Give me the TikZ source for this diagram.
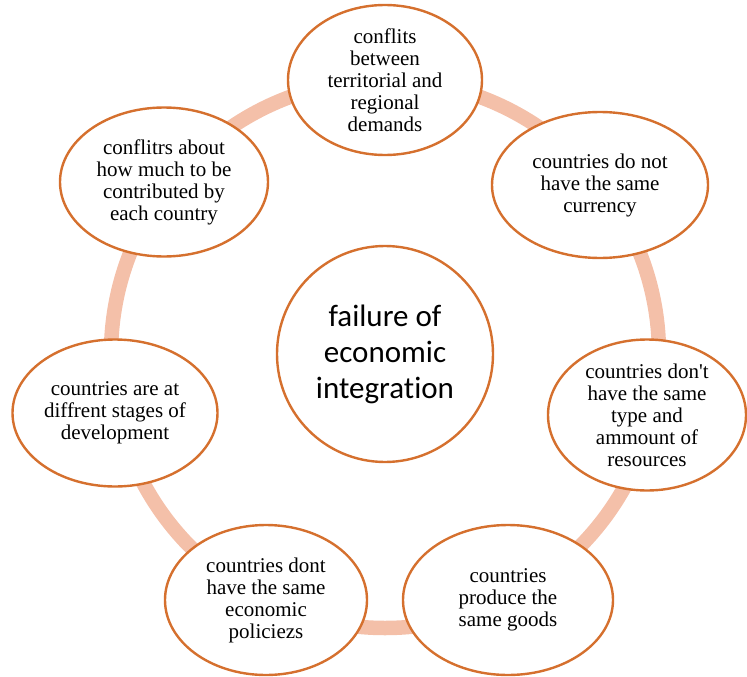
\documentclass[tikz,border=0pt]{standalone}
\usepackage{fontspec}
\setmainfont{Liberation Serif}
\newfontfamily\calib[Ligatures={NoCommon}]{Carlito}
\usetikzlibrary{shapes.geometric}
\definecolor{ringc}{HTML}{F4C0A9}
\definecolor{edgec}{HTML}{D5702E}
\begin{document}
\begin{tikzpicture}[x=1pt,y=-1pt,
  item/.style={ellipse, draw=edgec, line width=2.4pt, fill=white, inner sep=0pt, align=center,
    font=\fontsize{21}{22}\selectfont},
  hub/.style={circle, draw=edgec, line width=2.4pt, fill=white, minimum size=216pt, inner sep=0pt,
    align=center, font=\calib\fontsize{31}{36}\selectfont},
  ring/.style={draw=ringc, line width=14.5pt}]
\useasboundingbox (0,0) rectangle (747,677);
\coordinate (c) at (385,354);
\draw[ring] (c) circle (274pt);
\node[hub] (h) at (c) {failure of\\economic\\integrat\kern0pt ion};
\node[item, minimum width=194pt, minimum height=150pt] (n1) at (385,80)
  {conflits\\between\\territorial and\\regional\\demands};
\node[item, minimum width=216pt, minimum height=146pt] (n2) at (600,185)
  {countries do not\\have the same\\currency};
\node[item, minimum width=198pt, minimum height=151pt] (n3) at (647,415)
  {countries don\textquotesingle t\\have the same\\type and\\ammount of\\resources};
\node[item, minimum width=210pt, minimum height=150pt] (n4) at (508,600)
  {countries\\produce the\\same goods};
\node[item, minimum width=202pt, minimum height=150pt] (n5) at (266,600)
  {countries dont\\have the same\\economic\\policiezs};
\node[item, minimum width=205pt, minimum height=147pt] (n6) at (115,413)
  {countries are at\\diffrent stages of\\development};
\node[item, minimum width=208pt, minimum height=149pt] (n7) at (164,182)
  {conflitrs about\\how much to be\\contributed by\\each country};
\end{tikzpicture}
\end{document}
